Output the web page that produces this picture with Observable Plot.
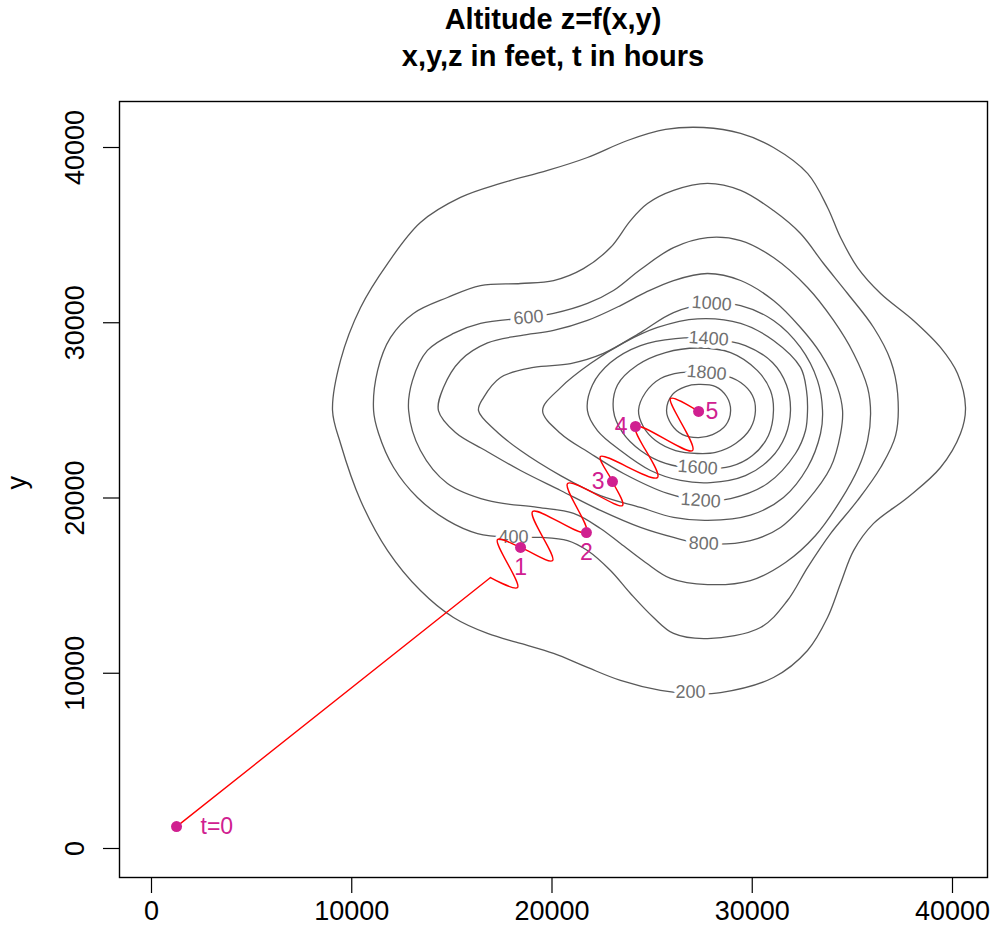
<!DOCTYPE html>
<html><head><meta charset="utf-8">
<script src="https://cdn.jsdelivr.net/npm/d3@7"></script>
<script src="https://cdn.jsdelivr.net/npm/@observablehq/plot@0.6"></script>
<style>
body{margin:0;background:#fff;font-family:"Liberation Sans",Arial,Helvetica,sans-serif;}
#title{height:90px;margin-left:119px;width:868px;text-align:center;font-weight:bold;font-size:29px;line-height:37px;padding-top:1px;box-sizing:border-box;color:#000}
#chart svg{display:block}
</style></head><body>
<div id="title"><div>Altitude z=f(x,y)</div><div>x,y,z in feet, t in hours</div></div>
<div id="chart"></div>
<script>
// contour levels (feet)
const levels = [200,400,600,800,1000,1200,1400,1600,1800,2000];
// contour lines, [x, y] in feet
const c200 = [[9040,24990],[9440,27850],[10440,30870],[11790,33380],[13430,35720],[15430,37150],[17430,37950],[19780,38690],[21770,39430],[23770,40400],[25670,41030],[27570,41140],[29420,40800],[31060,40000],[32760,38520],[33760,36580],[34410,34860],[35260,33150],[36410,31670],[38050,30130],[39400,28590],[40250,27100],[40650,25160],[40400,23680],[39400,21740],[37760,20030],[36060,18550],[35060,17000],[34410,15120],[33760,13180],[32760,11300],[31060,9760],[28420,8900],[26920,8840],[25420,9020],[23420,9590],[21770,10330],[20080,11130],[18430,11700],[16780,12270],[15080,13180],[13430,14720],[11790,17000],[10440,19860],[9440,23110]];
const c400 = [[11090,24990],[11290,27270],[11940,29160],[13080,30530],[14780,31440],[16430,32120],[18430,32240],[20080,32410],[21570,33090],[22920,34290],[23920,35830],[24770,36800],[26070,37550],[27770,37950],[29420,37550],[31060,36400],[32410,35090],[33560,33380],[34760,31670],[36060,29730],[36910,27850],[37260,25960],[37160,23570],[36410,21740],[35260,19860],[33910,17970],[32760,16030],[31760,14150],[30410,12610],[27770,11980],[26070,12270],[25070,13180],[23920,14550],[22920,15860],[21770,17000],[20780,17570],[19430,17750],[18080,17750],[16280,17970],[14780,18720],[13280,20030],[12090,21740],[11340,23680]];
const c600 = [[12840,24990],[13030,26700],[13780,28420],[15080,29390],[16430,29960],[18780,30300],[20080,30530],[21770,31100],[23070,31840],[24420,33040],[26070,34290],[27770,34860],[29420,34690],[31060,33720],[32760,32010],[34060,30130],[35060,28250],[35760,26300],[35910,24820],[35760,23280],[35310,21740],[34410,19860],[33160,17860],[31660,16320],[29910,15290],[27770,15060],[25920,15410],[24670,16320],[23420,17400],[22420,18260],[21080,19120],[19280,19460],[16780,19860],[14780,20830],[13430,22710]];
const c800 = [[14330,24990],[14580,26300],[15430,27850],[16780,28850],[18430,29270],[20080,29560],[21770,30130],[23420,30980],[24670,31730],[26070,32410],[27770,32810],[29420,32410],[31060,31270],[32410,29730],[33410,28250],[34260,26300],[34510,24990],[34410,23680],[33910,21740],[32760,19860],[31410,18320],[29910,17570],[27520,17400],[26070,17750],[24420,18320],[22420,19290],[20430,20430],[18430,21570],[16680,22710],[15180,23740]];
const c1000 = [[16330,24990],[16580,25730],[17430,26880],[19080,27450],[20930,27670],[22570,28250],[24420,29440],[26070,30580],[28020,31100],[29420,30980],[31060,30130],[32410,28590],[33260,26700],[33510,24990],[33410,23680],[32760,21740],[31560,20030],[29910,19020],[27770,18720],[26070,18890],[24420,19460],[22420,20140],[20430,21280],[18430,22710],[17180,23850]];
const c1200 = [[19530,24990],[20430,26300],[21920,27670],[23570,28850],[25270,29730],[27270,30220],[29420,29960],[31060,28990],[32410,27450],[32710,26130],[32760,24990],[32660,23850],[32160,22540],[30760,20830],[28920,19970],[27420,19860],[25770,20260],[23570,21400],[21920,22540],[20430,23680]];
const c1400 = [[21770,24990],[22020,26450],[22920,27730],[24420,28700],[26170,29100],[27920,29100],[29660,28700],[31010,27730],[31710,26450],[31910,24990],[31660,23570],[30910,22250],[29660,21280],[27920,20880],[26420,21000],[24920,21570],[23420,22710],[22270,23850]];
const c1600 = [[23070,24990],[23270,26450],[24270,27590],[25670,28300],[27270,28560],[28920,28300],[30260,27270],[30910,26130],[31060,24990],[30810,23570],[30010,22420],[28920,21800],[27270,21680],[25670,21970],[24420,22710],[23520,23740]];
const c1800 = [[24320,24990],[24670,26020],[25420,26820],[26420,27160],[27270,27160],[28420,27050],[29420,26590],[30010,25850],[30160,24990],[29910,23970],[29170,23110],[28170,22600],[27270,22540],[26170,22710],[25170,23280],[24570,24050]];
const c2000 = [[25720,24990],[26020,25910],[26670,26360],[27320,26480],[28170,26360],[28720,25790],[28920,24990],[28670,24140],[28020,23620],[27320,23450],[26520,23620],[25970,24190]];

// contour labels
const contourLabelText = ["200","400","600","800","1000","1200","1400","1600","1800"];
const contourLabelX = [26920,18080,18830,27570,27970,27420,27820,27270,27720];
const contourLabelY = [8900,17750,30300,17400,31100,19860,29100,21740,27150];

// hiker's path (feet): straight approach, then the zigzag climb
const approachX = [1250,16930];
const approachY = [1250,15460];
const climbX = [16930,18280,17280,18430,20030,19030,21720,20780,23520,23020,22420,25270,24170,27020,25920,27320];
const climbY = [15460,14890,17630,17180,16430,19230,18030,20830,19570,20940,22370,21170,24080,22710,25680,24940];

// positions at whole hours
const tHours = ["t=0","1","2","3","4","5"];
const tX = [1250,18430,21720,23020,24170,27320];
const tY = [1250,17180,18030,20940,24080,24940];

// ticks
const xTicks = [0,10000,20000,30000,40000];
const yTicks = [0,10000,20000,30000,40000];

const contourRows = [];
[c200,c400,c600,c800,c1000,c1200,c1400,c1600,c1800,c2000].forEach((pts,i) =>
  pts.forEach(([x,y]) => contourRows.push({x, y, level: levels[i]})));
const tilt = [0,0,-5,2,4,4,4,4,5];
const labelRows = contourLabelText.map((t,i) => ({x: contourLabelX[i], y: contourLabelY[i], text: t, r: tilt[i]}));
const approach = approachX.map((x,i) => ({x, y: approachY[i]}));
const climb = climbX.map((x,i) => ({x, y: climbY[i]}));
const tRows = tHours.map((t,i) => ({t, x: tX[i], y: tY[i], i}));
const magenta = "#d02090";

const chart = Plot.plot({
  width: 993, height: 846,
  marginTop: 11, marginBottom: 59, marginLeft: 119, marginRight: 6,
  x: {domain: [-1598, 41748]},
  y: {domain: [-1655, 42625]},
  style: {fontFamily: "'Liberation Sans', Arial, Helvetica, sans-serif", fontSize: "26px", color: "#000", background: "#fff", overflow: "visible"},
  marks: [
    Plot.frame({stroke: "#000", strokeWidth: 1.4}),
    Plot.axisX({ticks: xTicks, tickSize: 16, tickPadding: 7, tickFormat: d => String(d), label: null, fontSize: 27, strokeWidth: 1.2}),
    Plot.axisY({ticks: yTicks, tickSize: 16, tickPadding: 20, tickRotate: -90, tickFormat: d => String(d), label: null, fontSize: 27, strokeWidth: 1.2}),
    Plot.text(["y"], {frameAnchor: "left", text: d => d, dx: -102, rotate: -90, fontSize: 27}),
    Plot.line(contourRows, {x: "x", y: "y", z: "level", curve: "catmull-rom-closed", stroke: "#595959", strokeWidth: 1.3}),
    Plot.text(labelRows, {x: "x", y: "y", text: "text", rotate: "r", fill: "#707070", stroke: "white", strokeWidth: 8, paintOrder: "stroke", fontSize: 18}),
    Plot.line(approach, {x: "x", y: "y", stroke: "red", strokeWidth: 1.4}),
    Plot.line(climb, {x: "x", y: "y", stroke: "red", strokeWidth: 1.4, curve: "catmull-rom"}),
    Plot.dot(tRows, {x: "x", y: "y", r: 5.5, fill: magenta, stroke: "none"}),
    Plot.text(tRows.filter(d => d.i === 0), {x: "x", y: "y", text: "t", textAnchor: "start", dx: 24, fill: magenta, fontSize: 23}),
    Plot.text(tRows.filter(d => d.i === 5), {x: "x", y: "y", text: "t", textAnchor: "start", dx: 7, fill: magenta, fontSize: 23}),
    Plot.text(tRows.filter(d => d.i === 1 || d.i === 2), {x: "x", y: "y", text: "t", dy: 20, fill: magenta, fontSize: 23}),
    Plot.text(tRows.filter(d => d.i === 3 || d.i === 4), {x: "x", y: "y", text: "t", textAnchor: "end", dx: -8, fill: magenta, fontSize: 23})
  ]
});
document.getElementById("chart").appendChild(chart);
</script></body></html>
